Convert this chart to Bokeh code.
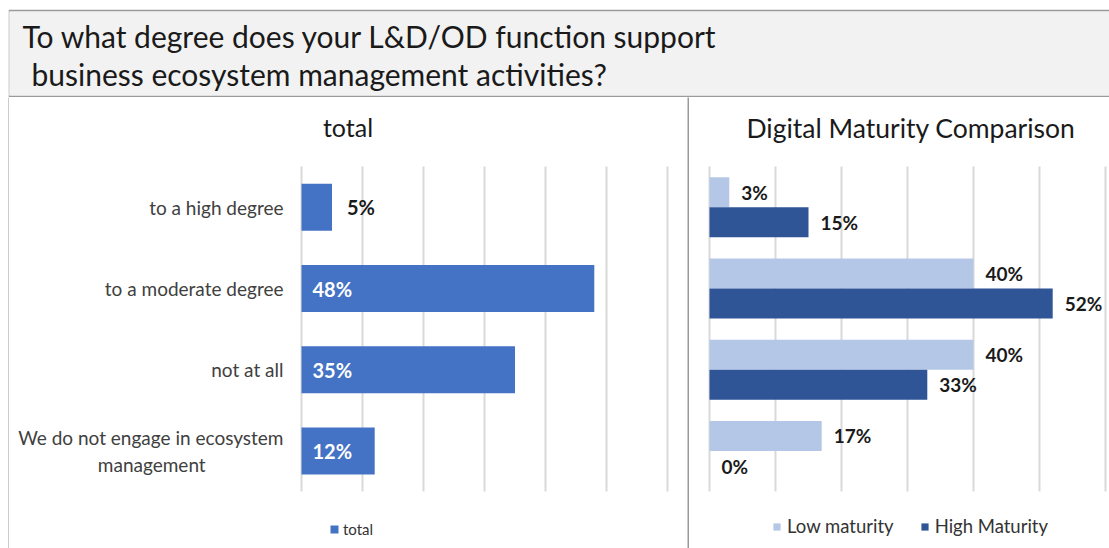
from bokeh.plotting import figure
from bokeh.layouts import row, column
from bokeh.models import (Range1d, FixedTicker, Label, Legend, LegendItem,
                          ColumnDataSource, Spacer, Grid)
from bokeh.transform import dodge
from bokeh.core.properties import value
from bokeh.embed import file_html
from bokeh.resources import INLINE

# ---------------- data ----------------
title_lines = ["To what degree does your L&D/OD function support",
               "business ecosystem management activities?"]
categories = ["to a high degree", "to a moderate degree", "not at all",
              "We do not engage in ecosystem\nmanagement"]
total_values = [5, 48, 35, 12]
low_values = [3, 40, 40, 17]
high_values = [15, 52, 33, 0]
series_names = ["Low maturity", "High Maturity"]
left_title = "total"
right_title = "Digital Maturity Comparison"
x_ticks = [0, 10, 20, 30, 40, 50, 60]

# ---------------- styles ----------------
FONT = "Lato"
BORDER = "#9a9a9a"
C_TOTAL = "#4472C4"
C_LOW = "#B4C7E7"
C_HIGH = "#2F5597"
GRID = "#d9d9d9"
PANEL_H = 451
N = len(categories)
positions = [N - 1 - i for i in range(N)]          # top category at the top
Y_RANGE = (-1.2, 4.351)                            # layout of the panel frame
HAS_CROSS = "cross_bounds" in Grid.properties()


def filler(w, h, color):
    f = figure(width=w, height=h, x_axis_location=None, y_axis_location=None,
               toolbar_location=None, min_border=0, outline_line_color=None,
               background_fill_color=color, border_fill_color=color,
               output_backend="svg")
    f.grid.visible = False
    return f


def panel(width, mb_left, mb_right, pad, with_axis):
    p = figure(width=width, height=PANEL_H, x_range=Range1d(-pad, 60 + pad),
               y_range=Range1d(*Y_RANGE), x_axis_location=None,
               y_axis_location="left" if with_axis else None,
               toolbar_location=None, output_backend="svg",
               min_border_left=mb_left, min_border_right=mb_right,
               min_border_top=0, min_border_bottom=0, outline_line_color=None,
               background_fill_color="white", border_fill_color="white")
    p.ygrid.visible = False
    p.xgrid.visible = False
    if HAS_CROSS:
        g = Grid(dimension=0, ticker=FixedTicker(ticks=x_ticks),
                 grid_line_color=GRID, grid_line_width=2,
                 cross_bounds=(-0.5, N - 0.5))
        p.add_layout(g, "center")
    else:
        p.segment(x0=x_ticks, x1=x_ticks, y0=[-0.5] * len(x_ticks),
                  y1=[N - 0.5] * len(x_ticks), line_color=GRID, line_width=2,
                  level="underlay")
    return p


# ---------------- header ----------------
header = figure(width=1101, height=88, x_axis_location=None, y_axis_location=None,
                toolbar_location=None, output_backend="svg",
                min_border_top=2, min_border_left=1, min_border_bottom=2,
                min_border_right=0, outline_line_color=None,
                background_fill_color="#f2f2f2", border_fill_color=BORDER)
header.grid.visible = False
header.add_layout(Label(x=13, y=60, x_units="screen", y_units="screen",
                        text=title_lines[0], text_font=FONT, text_font_size="30px",
                        text_color="#1a1a1a", text_baseline="middle"))
header.add_layout(Label(x=22, y=22, x_units="screen", y_units="screen",
                        text=title_lines[1], text_font=FONT, text_font_size="30px",
                        text_color="#1a1a1a", text_baseline="middle"))

# ---------------- left panel ----------------
left = panel(678, 290, 18, 2 / 6.1, True)
left.yaxis.ticker = FixedTicker(ticks=positions)
overrides = {}
for pos, cat in zip(positions, categories):
    if "\n" in cat:
        first, second = cat.split("\n", 1)
        cat = first + "\n" + second + "\u00a0" * 16
    overrides[pos] = cat
left.yaxis.major_label_overrides = overrides
left.yaxis.axis_line_color = None
left.yaxis.major_tick_line_color = None
left.yaxis.minor_tick_line_color = None
left.yaxis.major_tick_out = 0
left.yaxis.major_tick_in = 0
left.yaxis.minor_tick_out = 0
left.yaxis.major_label_standoff = 16
left.yaxis.major_label_text_font = FONT
left.yaxis.major_label_text_font_size = "19px"
left.yaxis.major_label_text_color = "#404040"

lsrc = ColumnDataSource(dict(
    pos=positions, val=total_values,
    lx=[v if v < 10 else 0 for v in total_values],
    loff=[15 if v < 10 else 11 for v in total_values],
    lcol=["#1a1a1a" if v < 10 else "white" for v in total_values],
    txt=[f"{v}%" for v in total_values]))
r_total = left.hbar(y="pos", right="val", left=0, height=0.58, source=lsrc,
                    fill_color=C_TOTAL, line_color=None)
left.text(x="lx", y="pos", text="txt", x_offset="loff", source=lsrc,
          text_color="lcol", text_font_size="20px", text_font_style="bold",
          text_baseline="middle", text_align="left", text_font=value(FONT))
left.add_layout(Label(x=48.5, y=422, x_units="screen", y_units="screen",
                      text=left_title, text_font=FONT, text_font_size="25px",
                      text_color="#1a1a1a", text_align="center",
                      text_baseline="middle"))
leg_l = Legend(items=[LegendItem(label="total", renderers=[r_total])],
               location=(30, 10), orientation="horizontal", padding=0, margin=0,
               border_line_color=None, background_fill_alpha=0,
               glyph_width=10, glyph_height=10, label_height=10, label_width=10,
               label_standoff=4, label_text_font=FONT, label_text_font_size="15px",
               label_text_color="#333333")
left.add_layout(leg_l)

# ---------------- right panel ----------------
right = panel(420, 18, 2, 2 / 6.6, False)
rsrc = ColumnDataSource(dict(
    pos=positions, low=low_values, high=high_values,
    ltxt=[f"{v}%" for v in low_values], htxt=[f"{v}%" for v in high_values]))
r_low = right.hbar(y=dodge("pos", 0.185), right="low", left=0, height=0.37,
                   source=rsrc, fill_color=C_LOW, line_color=None)
r_high = right.hbar(y=dodge("pos", -0.185), right="high", left=0, height=0.37,
                    source=rsrc, fill_color=C_HIGH, line_color=None)
for col, txt, off in (("low", "ltxt", 0.185), ("high", "htxt", -0.185)):
    right.text(x=col, y=dodge("pos", off), text=txt, source=rsrc,
               x_offset=12, text_color="#1a1a1a", text_font_size="19px",
               text_font_style="bold", text_baseline="middle", text_align="left",
               text_font=value(FONT))
right.add_layout(Label(x=203.5, y=421, x_units="screen", y_units="screen",
                       text=right_title, text_font=FONT, text_font_size="26.5px",
                       text_color="#1a1a1a", text_align="center",
                       text_baseline="middle"))
leg_r = Legend(items=[LegendItem(label=series_names[0], renderers=[r_low]),
                      LegendItem(label=series_names[1], renderers=[r_high])],
               location=(65, 11), orientation="horizontal", padding=0, margin=0,
               spacing=26, border_line_color=None, background_fill_alpha=0,
               glyph_width=9, glyph_height=9, label_height=9, label_width=10,
               label_standoff=6, label_text_font=FONT, label_text_font_size="18.5px",
               label_text_color="#333333")
right.add_layout(leg_r)

# ---------------- layout ----------------
header_row = row(Spacer(width=8, height=88), header, spacing=0)
panels = row(Spacer(width=8, height=PANEL_H), filler(1, PANEL_H, BORDER), left,
             filler(2, PANEL_H, BORDER), right, spacing=0)
layout = column(Spacer(width=1109, height=9), header_row, panels, spacing=0)

open("out.html", "w").write(file_html(layout, INLINE))
